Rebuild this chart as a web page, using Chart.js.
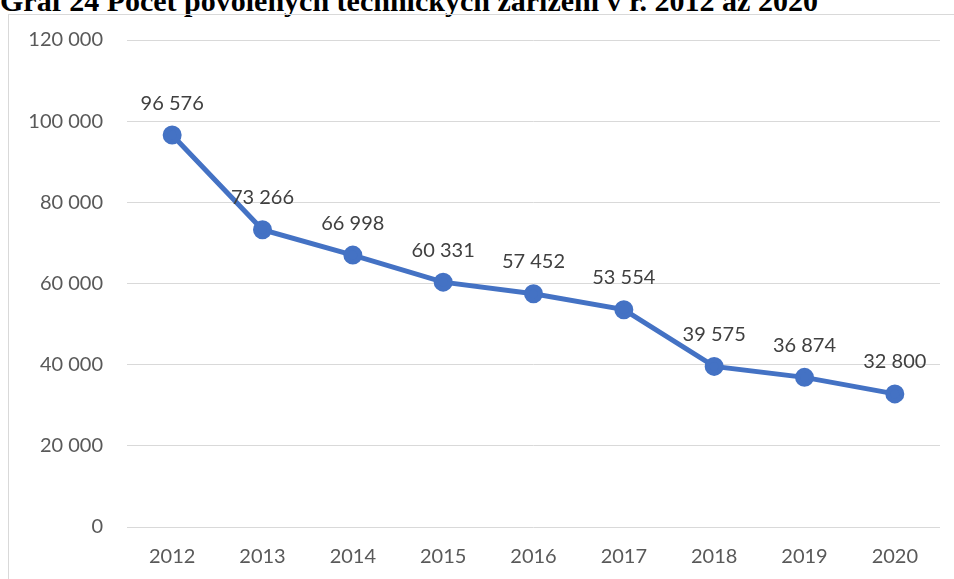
<!DOCTYPE html>
<html>
<head>
<meta charset="utf-8">
<script src="https://cdn.jsdelivr.net/npm/chart.js@4"></script>
<style>
  html, body { margin: 0; padding: 0; background: #fff; overflow: hidden; }
  #wrap { position: relative; width: 954px; height: 579px; }
  #title { position: absolute; left: 0; top: -14px; font: bold 30px/30px "Liberation Serif", serif; color: #000; white-space: nowrap; }
  #frame { position: absolute; left: 8px; top: 14px; width: 960px; height: 600px; border: 1px solid #d9d9d9; }
  canvas { position: absolute; left: 0; top: 0; }
</style>
</head>
<body>
<div id="wrap">
  <div id="title">Graf 24 Počet povolených technických zařízení v r. 2012 až 2020</div>
  <div id="frame"></div>
  <canvas id="myChart" width="954" height="579"></canvas>
</div>
<script>
// Data
const roky = ['2012', '2013', '2014', '2015', '2016', '2017', '2018', '2019', '2020'];
const pocty = [96576, 73266, 66998, 60331, 57452, 53554, 39575, 36874, 32800];

const fmt = v => String(v).replace(/\B(?=(\d{3})+(?!\d))/g, ' ');

/* popisky hodnot nad body */
const popisky = {
  id: 'popisky',
  afterDatasetsDraw(chart) {
    const ctx = chart.ctx;
    const meta = chart.getDatasetMeta(0);
    ctx.save();
    ctx.font = '20px Lato, sans-serif';
    ctx.fillStyle = '#404040';
    ctx.textAlign = 'center';
    ctx.textBaseline = 'middle';
    meta.data.forEach((pt, i) => {
      ctx.fillText(fmt(pocty[i]), pt.x, pt.y - 32);
    });
    ctx.restore();
  }
};

new Chart(document.getElementById('myChart'), {
  type: 'line',
  data: {
    labels: roky,
    datasets: [{
      data: pocty,
      borderColor: '#4472C4',
      backgroundColor: '#4472C4',
      borderWidth: 5,
      pointRadius: 7,
      pointHoverRadius: 7,
      tension: 0
    }]
  },
  options: {
    responsive: false,
    animation: false,
    layout: { padding: { top: 40, right: 14, bottom: 0, left: 0 } },
    plugins: { legend: { display: false }, tooltip: { enabled: false } },
    scales: {
      x: {
        offset: true,
        grid: { display: false },
        border: { display: false },
        ticks: { color: '#595959', font: { family: 'Lato', size: 20 }, padding: 10, maxRotation: 0 },
        afterFit: s => { s.height = 52; }
      },
      y: {
        min: 0,
        max: 120000,
        grid: { color: '#d9d9d9', lineWidth: 1, drawTicks: false },
        border: { display: false },
        ticks: { stepSize: 20000, color: '#595959', font: { family: 'Lato', size: 20 }, padding: 24, callback: v => fmt(v) },
        afterFit: s => { s.width = 127; }
      }
    }
  },
  plugins: [popisky]
});
</script>
</body>
</html>
